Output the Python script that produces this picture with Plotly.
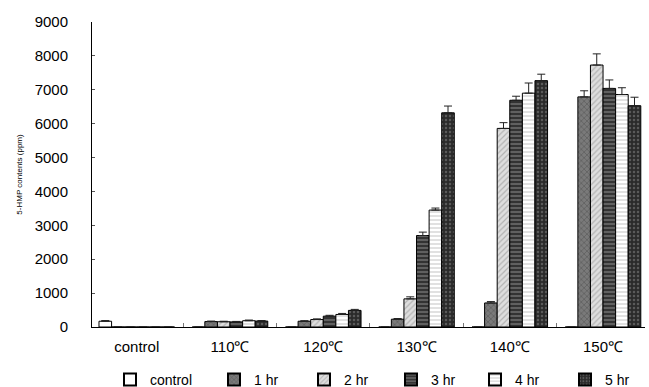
import plotly.graph_objects as go

categories = ["control", "110℃", "120℃", "130℃", "140℃", "150℃"]
series_names = ["control", "1 hr", "2 hr", "3 hr", "4 hr", "5 hr"]

control_vals = [170, 0, 0, 0, 0, 0]
hr1_vals = [0, 160, 170, 230, 710, 6790]
hr2_vals = [0, 155, 220, 830, 5860, 7730]
hr3_vals = [0, 150, 320, 2700, 6690, 7040]
hr4_vals = [0, 185, 370, 3450, 6900, 6860]
hr5_vals = [0, 175, 490, 6320, 7270, 6530]

control_err = [20, 0, 0, 0, 0, 0]
hr1_err = [0, 15, 15, 20, 40, 180]
hr2_err = [0, 15, 20, 60, 170, 330]
hr3_err = [0, 15, 25, 100, 120, 250]
hr4_err = [0, 20, 30, 60, 300, 200]
hr5_err = [0, 15, 30, 200, 190, 250]

values = [control_vals, hr1_vals, hr2_vals, hr3_vals, hr4_vals, hr5_vals]
errors = [control_err, hr1_err, hr2_err, hr3_err, hr4_err, hr5_err]

styles = [
    dict(color="white", pattern=dict(shape="")),
    dict(color="#6e6e6e", pattern=dict(shape="x", fgcolor="#3a3a3a", bgcolor="#7a7a7a", size=4, solidity=0.3)),
    dict(color="#d0d0d0", pattern=dict(shape="/", fgcolor="#888888", bgcolor="#dedede", size=4, solidity=0.3)),
    dict(color="#3a3a3a", pattern=dict(shape="-", fgcolor="#c8c8c8", bgcolor="#333333", size=4, solidity=0.3)),
    dict(color="#f4f4f4", pattern=dict(shape="-", fgcolor="#9a9a9a", bgcolor="#ffffff", size=4, solidity=0.3)),
    dict(color="#2e2e2e", pattern=dict(shape=".", fgcolor="#8a8a8a", bgcolor="#2a2a2a", size=4, solidity=0.3)),
]

legend_ids = ["legend", "legend2", "legend3", "legend4", "legend5", "legend6"]
legend_px = [110, 214, 304, 391, 475, 565]

font = "Liberation Sans, Arial, sans-serif"
L, R, T, B = 92, 4, 22, 60
W, H = 649, 387
pw, ph = W - L - R, H - T - B

fig = go.Figure()
for name, vals, errs, st, lid in zip(series_names, values, errors, styles, legend_ids):
    fig.add_trace(go.Bar(
        x=categories, y=vals, name=name, legend=lid,
        marker=dict(color=st["color"], pattern=st["pattern"],
                    line=dict(color="black", width=1)),
        error_y=dict(type="data", array=errs, arrayminus=[0]*len(errs),
                     symmetric=False, color="#222222", thickness=1, width=4),
    ))

legend_y = -(380 - (H - B)) / ph
layout_legends = {}
for lid, px in zip(legend_ids, legend_px):
    layout_legends[lid] = dict(
        orientation="h", x=(px - L) / pw, xanchor="left", y=legend_y, yanchor="middle",
        font=dict(size=14, family=font), bgcolor="rgba(0,0,0,0)",
        itemsizing="constant")

fig.update_layout(
    width=W, height=H,
    margin=dict(l=L, r=R, t=T, b=B, autoexpand=False),
    paper_bgcolor="white", plot_bgcolor="white",
    barmode="group", bargap=0.19, bargroupgap=0,
    font=dict(family=font, color="black", size=13),
    showlegend=True,
    xaxis=dict(range=[-0.48, 5.45], showline=True, linecolor="black", linewidth=1,
               ticks="inside", ticklen=4, tickson="boundaries", tickcolor="#777",
               tickfont=dict(size=15, family=font), ticklabelstandoff=6, showgrid=False),
    yaxis=dict(range=[0, 9000], dtick=1000, showline=True, linecolor="black", linewidth=1,
               ticks="inside", ticklen=3, tickcolor="#555", showgrid=False, zeroline=False,
               tickfont=dict(size=15, family=font), ticklabelstandoff=20,
               title=dict(text="5-HMP contents (ppm)", font=dict(size=8, family=font), standoff=10)),
    **layout_legends,
)

fig.write_html("out.html")
